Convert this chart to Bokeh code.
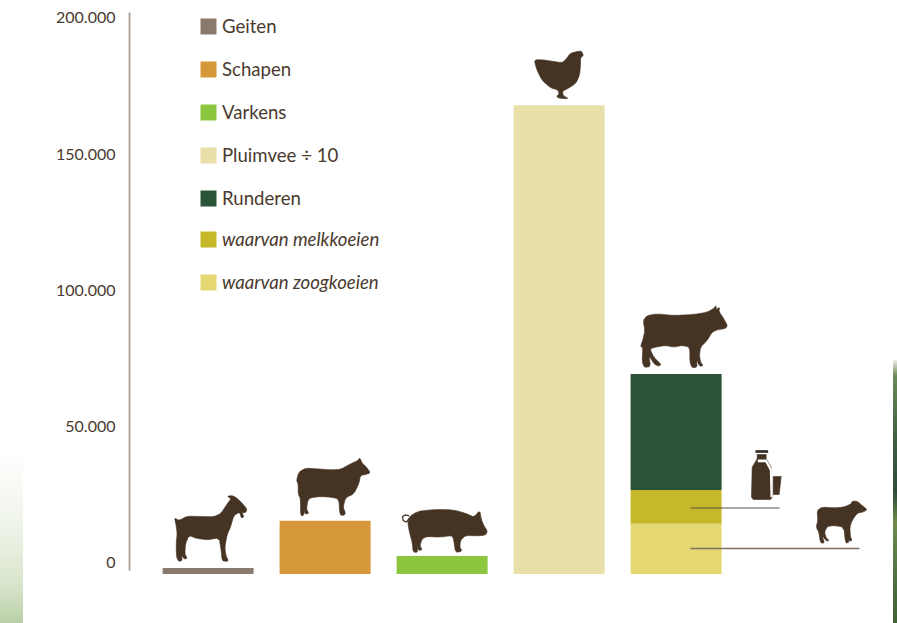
from bokeh.plotting import figure
from bokeh.embed import file_html
from bokeh.resources import INLINE
from bokeh.models import (Range1d, LinearAxis, FixedTicker, Legend, LegendItem,
                          GlobalInlineStyleSheet)

# ---- data -------------------------------------------------------------
categories = ["Geiten", "Schapen", "Varkens", "Pluimvee ÷ 10", "Runderen"]
single_values = [2200, 19500, 6600, 172000]
single_colors = ["#8a7a6d", "#d69738", "#8cc63f", "#e8dfa9"]
runderen_total = 73400
melkkoeien = 12400
zoogkoeien = 18400
stack_labels = ["Runderen", "waarvan melkkoeien", "waarvan zoogkoeien"]
stack_colors = ["#2a5338", "#c5b82a", "#e5d873"]
tick_values = [0, 50000, 100000, 150000, 200000]
tick_labels = ["0", "50.000", "100.000", "150.000", "200.000"]

FONT = "Lato"
INK = "#4a3a2e"
SIL = "#453324"

# ---- page geometry ----------------------------------------------------
PX = 200000 / 545            # value units per pixel
FL, FR, FT, FB = 129, 897, 0, 623   # frame in page pixels
ZERO = 573.5
STEP = 117
x0 = -(207.6 - FL) / STEP

css = GlobalInlineStyleSheet(css="""
html { background-color:#fff;
  background-image:
    linear-gradient(to bottom, #ffffff 0%, #f6f8f2 25%, #e8efe0 55%, #d6e3c8 80%, #b9d0a6 100%),
    linear-gradient(to bottom, #eeeeea 0%, #6c8a58 6%, #3f5f42 30%, #2f4a3c 50%, #708a4c 62%, #4d6d44 85%, #3f6238 100%);
  background-size: 23px 170px, 4px 263px;
  background-position: 0 453px, 893px 360px;
  background-repeat: no-repeat; }
""")

p = figure(width=897, height=623, output_backend="svg", toolbar_location=None,
           x_axis_location=None, y_axis_location=None,
           x_range=Range1d(x0, x0 + (FR - FL) / STEP),
           y_range=Range1d(-(FB - ZERO) * PX, (ZERO - FT) * PX),
           min_border_left=FL, min_border_right=0, min_border_top=0,
           min_border_bottom=0, outline_line_color=None,
           background_fill_alpha=0, border_fill_alpha=0)
p.stylesheets = [css]
p.grid.visible = False

# pixel-space ranges for the decorations
p.extra_x_ranges = {"px": Range1d(FL, FR)}
p.extra_y_ranges = {"px": Range1d(FB, FT),
                    "labels": Range1d(-(FB - 562.3) * PX, (562.3 - FT) * PX)}

# ---- axis ---------------------------------------------------------------
axis = LinearAxis(y_range_name="labels", ticker=FixedTicker(ticks=tick_values),
                  major_label_overrides=dict(zip(tick_values, tick_labels)),
                  major_tick_line_color=None, minor_tick_line_color=None,
                  axis_line_color="#a89d92", axis_line_width=1.8,
                  major_label_text_font=FONT, major_label_text_font_size="16px",
                  major_label_text_color=INK, major_label_standoff=8,
                  bounds=(-(7.7) * PX, 550.3 * PX))
p.add_layout(axis, "left")

# ---- bars ---------------------------------------------------------------
W = 91 / STEP
items_up, items_it = [], []
for i, (name, val, col) in enumerate(zip(categories[:4], single_values, single_colors)):
    r = p.vbar(x=[i], bottom=[0], top=[val], width=W, color=col, line_color=None)
    items_up.append(LegendItem(label=name, renderers=[r]))

zoog = p.vbar(x=[4], bottom=[0], top=[zoogkoeien], width=W, color=stack_colors[2], line_color=None)
melk = p.vbar(x=[4], bottom=[zoogkoeien], top=[zoogkoeien + melkkoeien], width=W,
              color=stack_colors[1], line_color=None)
rund = p.vbar(x=[4], bottom=[zoogkoeien + melkkoeien], top=[runderen_total], width=W,
              color=stack_colors[0], line_color=None)
items_up.append(LegendItem(label=stack_labels[0], renderers=[rund]))
items_it.append(LegendItem(label=stack_labels[1], renderers=[melk]))
items_it.append(LegendItem(label=stack_labels[2], renderers=[zoog]))

common = dict(border_line_color=None, background_fill_alpha=0, padding=0, margin=0,
              glyph_width=20, glyph_height=20, label_standoff=4, label_height=20,
              label_text_font=FONT, label_text_font_size="18.6px",
              label_text_color=INK, spacing=21, click_policy="none")
p.add_layout(Legend(items=items_up, location=(198 - FL, FB - 209), **common), "center")
p.add_layout(Legend(items=items_it, location=(198 - FL, FB - 293),
                    label_text_font_style="italic", **common), "center")

# ---- silhouettes (traced in 3x crop coordinates) ------------------------
def smooth(pts):
    out = []
    n = len(pts)
    for i in range(n):
        (a, b), (c, d) = pts[i], pts[(i + 1) % n]
        out += [(0.8 * a + 0.2 * c, 0.8 * b + 0.2 * d), (0.2 * a + 0.8 * c, 0.2 * b + 0.8 * d)]
    return out

def sil(pts, ox, oy, soft=True):
    pts = smooth(pts) if soft else pts
    return [ox + a / 3 for a, b in pts], [oy + b / 3 for a, b in pts]

goat = [(522,352),(535,360),(560,347),(600,348),(640,349),(662,338),(680,310),(692,295),(680,287),(695,285),(708,292),(722,305),(740,326),(735,337),(725,335),(730,350),(722,352),(718,335),(700,345),(690,380),(680,402),(673,440),(676,465),(683,478),(680,483),(665,481),(662,450),(656,412),(620,418),(590,414),(565,405),(555,430),(553,460),(560,473),(552,476),(543,465),(545,480),(535,483),(528,470),(527,430),(530,400),(527,375)]
sheep = [(888,240),(895,215),(915,203),(950,205),(990,208),(1020,207),(1050,190),(1072,180),(1078,172),(1085,188),(1098,200),(1110,217),(1095,222),(1080,225),(1075,250),(1060,280),(1035,292),(1028,320),(1035,338),(1030,345),(1018,343),(1015,295),(990,290),(960,288),(930,292),(922,300),(918,325),(925,340),(912,340),(912,320),(910,345),(900,345),(900,295),(893,280),(893,250)]
pig = [(1225,350),(1250,333),(1300,327),(1360,328),(1400,340),(1420,350),(1438,330),(1442,355),(1450,375),(1461,392),(1455,404),(1430,406),(1395,405),(1380,420),(1378,440),(1385,452),(1365,456),(1360,420),(1355,405),(1320,410),(1280,408),(1265,415),(1258,435),(1265,448),(1255,450),(1250,435),(1252,455),(1238,455),(1235,425),(1228,400),(1222,370)]
pig_tail = [(1226,346),(1215,343),(1206,348),(1208,360),(1218,365),(1225,355)]
cow = [(128,90),(140,75),(170,70),(220,75),(280,72),(320,65),(338,55),(347,45),(347,57),(358,50),(355,62),(370,85),(381,105),(375,114),(350,118),(335,125),(320,150),(300,170),(297,195),(300,215),(308,225),(298,228),(288,208),(290,230),(275,232),(268,215),(268,170),(245,165),(220,170),(195,165),(165,170),(148,175),(160,200),(182,222),(175,227),(162,222),(145,195),(150,228),(132,231),(125,215),(127,170),(120,168),(128,145),(133,120)]
calf = [(650,660),(665,650),(700,652),(730,650),(752,640),(755,632),(770,632),(785,645),(800,657),(790,664),(770,668),(755,690),(748,710),(750,740),(755,750),(745,752),(742,740),(745,757),(735,757),(730,710),(700,705),(680,708),(672,725),(677,742),(686,750),(678,752),(665,735),(672,758),(660,757),(655,725),(647,710),(652,690)]
bottle = [(455,530),(470,505),(470,492),(497,492),(497,505),(512,530),(515,620),(510,627),(458,627),(453,620)]
bottle_hi = [(472,507),(498,507),(514,535),(516,620),(510,620),(508,540),(495,515),(472,515)]
cap = [(465,479),(503,479),(503,487),(465,487)]
glass = [(518,558),(542,558),(536,612),(518,612)]
hen = [(102,88),(125,88),(155,92),(185,97),(197,85),(210,68),(235,62),(243,62),(249,75),(240,82),(240,105),(237,135),(225,160),(195,178),(186,182),(188,195),(205,205),(175,203),(168,198),(176,190),(172,178),(150,172),(125,150),(112,125),(105,105)]

shapes = [sil(goat, 0, 400), sil(sheep, 0, 400), sil(pig, 0, 400), sil(hen, 500, 30),
          sil(cow, 600, 290), sil(calf, 600, 290), sil(bottle, 600, 290, False), sil(glass, 600, 290, False)]
p.patches([s[0] for s in shapes], [s[1] for s in shapes], fill_color=SIL, line_color=SIL,
          line_width=0.6, x_range_name="px", y_range_name="px")
tx, ty = sil(pig_tail, 0, 400, False)
p.line(tx, ty, line_color=SIL, line_width=1.3, x_range_name="px", y_range_name="px")
hx, hy = sil(bottle_hi, 600, 290, False)
p.patch(hx, hy, fill_color="#ffffff", line_color=None, x_range_name="px", y_range_name="px")
cx, cy = sil(cap, 600, 290, False)
p.patch(cx, cy, fill_color="#2e2a28", line_color=None, x_range_name="px", y_range_name="px")

# leader lines
p.segment([690], [507.5], [779], [507.5], line_color="#5f5144", line_width=1,
          x_range_name="px", y_range_name="px")
p.segment([690], [548], [859], [548], line_color="#7d7063", line_width=1.4,
          x_range_name="px", y_range_name="px")

open("out.html", "w").write(file_html(p, INLINE))
